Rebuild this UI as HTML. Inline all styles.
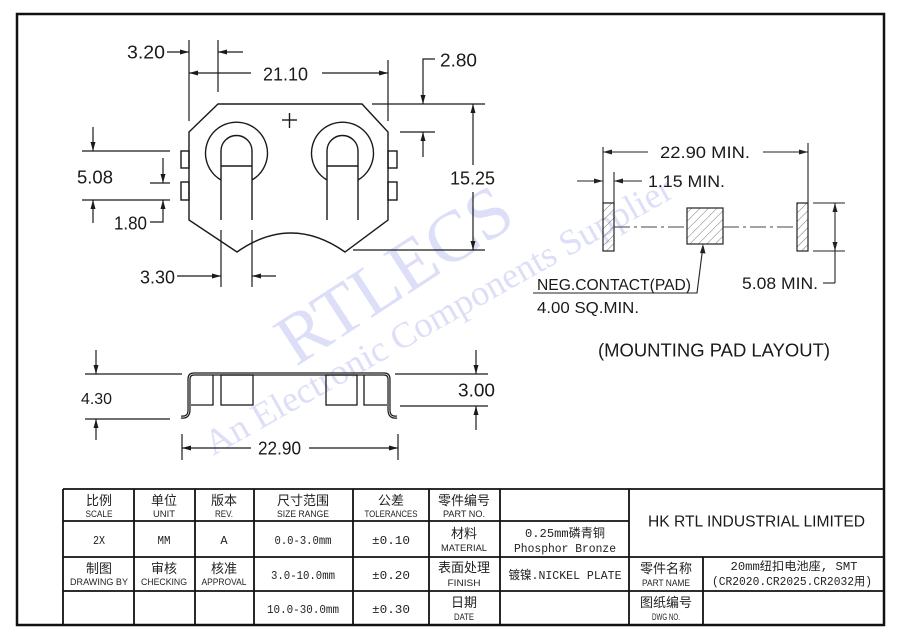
<!DOCTYPE html>
<html><head><meta charset="utf-8"><style>
html,body{margin:0;padding:0;background:#fff;}
svg{display:block;}
.d{font-family:"Liberation Sans",sans-serif;fill:#1a1a1a;}
.c{font-family:"Liberation Sans","Noto Sans CJK SC",sans-serif;fill:#222;}
.m{font-family:"Liberation Mono","Noto Sans CJK SC",monospace;fill:#222;}
</style></head><body>
<svg width="917" height="641" viewBox="0 0 917 641" xmlns="http://www.w3.org/2000/svg">
<defs>
<pattern id="h" patternUnits="userSpaceOnUse" width="6" height="6" patternTransform="rotate(45)">
<line x1="0" y1="0" x2="0" y2="6" stroke="#666" stroke-width="0.9"/></pattern>
</defs>
<rect width="917" height="641" fill="#fff"/>

<!-- watermark -->
<g fill="#dcdff7" font-family="Liberation Serif,serif">
<text transform="translate(296,367) rotate(-33)" font-size="72" textLength="265" lengthAdjust="spacingAndGlyphs">RTLECS</text>
<text transform="translate(213,456) rotate(-29.3)" font-size="36" textLength="530" lengthAdjust="spacingAndGlyphs">An Electronic Components Supplier</text>
</g>

<!-- frame -->
<rect x="17" y="14" width="867" height="611" fill="none" stroke="#111" stroke-width="2.5"/>

<!-- top view body -->
<g fill="none" stroke="#1a1a1a" stroke-width="1.4">
<path d="M218,104 L362,104 L388,132 L388,220 L345,252 Q291,214 237,252 L189,220 L189,132 Z"/>
<rect x="181" y="151" width="8" height="17"/>
<rect x="181" y="182" width="8" height="18"/>
<rect x="388" y="151" width="9" height="17"/>
<rect x="388" y="182" width="9" height="18"/>
<path d="M221,180 A31,31 0 1 1 252,180"/>
<path d="M221,220 L221,151 A15.5,15.5 0 0 1 252,151 L252,220"/>
<line x1="221" y1="166" x2="252" y2="166"/>
<path d="M327,180 A31,31 0 1 1 358,180"/>
<path d="M327,220 L327,151 A15.5,15.5 0 0 1 358,151 L358,220"/>
<line x1="327" y1="166" x2="358" y2="166"/>
<line x1="282" y1="120" x2="297" y2="120"/>
<line x1="289.5" y1="113" x2="289.5" y2="128"/>
</g>

<!-- top view dims -->
<g stroke="#1a1a1a" stroke-width="1.2" fill="none">
<line x1="189" y1="40" x2="189" y2="121"/>
<line x1="218" y1="40" x2="218" y2="92"/>
<line x1="167" y1="52" x2="189" y2="52"/>
<line x1="218" y1="52" x2="243" y2="52"/>
<line x1="189" y1="73" x2="251" y2="73"/>
<line x1="322" y1="73" x2="388" y2="73"/>
<line x1="388" y1="60" x2="388" y2="121"/>
<polyline points="435,59 423,59 423,104"/>
<line x1="423" y1="132" x2="423" y2="157"/>
<line x1="372" y1="104" x2="485" y2="104"/>
<line x1="400" y1="132" x2="435" y2="132"/>
<line x1="473" y1="104" x2="473" y2="165"/>
<line x1="473" y1="192" x2="473" y2="250"/>
<line x1="353" y1="250" x2="485" y2="250"/>
<line x1="82" y1="151" x2="170" y2="151"/>
<line x1="82" y1="200" x2="170" y2="200"/>
<line x1="150" y1="183" x2="170" y2="183"/>
<line x1="93" y1="127" x2="93" y2="151"/>
<line x1="93" y1="200" x2="93" y2="223"/>
<line x1="163" y1="158" x2="163" y2="183"/>
<polyline points="163,200 163,222 150,222"/>
<line x1="221" y1="230" x2="221" y2="287"/>
<line x1="252" y1="230" x2="252" y2="287"/>
<line x1="177" y1="276" x2="221" y2="276"/>
<line x1="252" y1="276" x2="276" y2="276"/>
</g>
<g fill="#1a1a1a">
<polygon points="189,52 180,49.5 180,54.5"/>
<polygon points="218,52 227,49.5 227,54.5"/>
<polygon points="189,73 198,70.5 198,75.5"/>
<polygon points="388,73 379,70.5 379,75.5"/>
<polygon points="423,104 420.5,95 425.5,95"/>
<polygon points="423,132 420.5,141 425.5,141"/>
<polygon points="473,104 470.5,113 475.5,113"/>
<polygon points="473,250 470.5,241 475.5,241"/>
<polygon points="93,151 90.5,142 95.5,142"/>
<polygon points="93,200 90.5,209 95.5,209"/>
<polygon points="163,183 160.5,174 165.5,174"/>
<polygon points="163,200 160.5,209 165.5,209"/>
<polygon points="221,276 212,273.5 212,278.5"/>
<polygon points="252,276 261,273.5 261,278.5"/>
</g>
<g class="d" font-size="18">
<text x="127" y="58.5" textLength="38" lengthAdjust="spacingAndGlyphs">3.20</text>
<text x="263" y="80.5" textLength="45" lengthAdjust="spacingAndGlyphs">21.10</text>
<text x="440" y="66.5" textLength="37" lengthAdjust="spacingAndGlyphs">2.80</text>
<text x="450" y="184.5" textLength="45" lengthAdjust="spacingAndGlyphs">15.25</text>
<text x="77" y="183.5" textLength="36" lengthAdjust="spacingAndGlyphs">5.08</text>
<text x="114" y="229.5" textLength="33" lengthAdjust="spacingAndGlyphs">1.80</text>
<text x="140" y="283.5" textLength="35" lengthAdjust="spacingAndGlyphs">3.30</text>
<text x="458" y="396.5" textLength="37" lengthAdjust="spacingAndGlyphs">3.00</text>
<text x="258" y="454.5" textLength="43" lengthAdjust="spacingAndGlyphs">22.90</text>
</g>
<text class="d" x="81" y="404" font-size="16" textLength="31" lengthAdjust="spacingAndGlyphs">4.30</text>

<!-- side view -->
<g fill="none" stroke="#1a1a1a">
<path d="M181,417 Q189,418 189,410 L189,379 Q189,374 194,374 L384,374 Q389,374 389,379 L389,410 Q389,418 397,417" stroke-width="3.2"/>
<path d="M181,417 Q189,418 189,410 L189,379 Q189,374 194,374 L384,374 Q389,374 389,379 L389,410 Q389,418 397,417" stroke="#fff" stroke-width="0.7"/>
<g stroke-width="1.3">
<polyline points="191,405 213,405 213,375"/>
<rect x="221" y="375" width="32" height="30"/>
<rect x="326" y="375" width="31" height="30"/>
<polyline points="364,375 364,405 387,405"/>
</g>
<g stroke-width="1.2">
<line x1="85" y1="374" x2="182" y2="374"/>
<line x1="85" y1="419" x2="170" y2="419"/>
<line x1="96" y1="350" x2="96" y2="374"/>
<line x1="96" y1="419" x2="96" y2="440"/>
<line x1="395" y1="374" x2="488" y2="374"/>
<line x1="400" y1="406" x2="488" y2="406"/>
<line x1="476" y1="350" x2="476" y2="374"/>
<line x1="476" y1="406" x2="476" y2="430"/>
<line x1="182" y1="434" x2="182" y2="460"/>
<line x1="398" y1="434" x2="398" y2="460"/>
<line x1="182" y1="448" x2="251" y2="448"/>
<line x1="309" y1="448" x2="398" y2="448"/>
</g>
</g>
<g fill="#1a1a1a">
<polygon points="96,374 93.5,365 98.5,365"/>
<polygon points="96,419 93.5,428 98.5,428"/>
<polygon points="476,374 473.5,365 478.5,365"/>
<polygon points="476,406 473.5,415 478.5,415"/>
<polygon points="182,448 191,445.5 191,450.5"/>
<polygon points="398,448 389,445.5 389,450.5"/>
</g>

<!-- mounting pad layout -->
<g stroke="#222" stroke-width="1.2">
<rect x="603" y="203" width="11" height="48" fill="url(#h)"/>
<rect x="687" y="208" width="36" height="36" fill="url(#h)"/>
<rect x="797" y="203" width="11" height="48" fill="url(#h)"/>
</g>
<g stroke="#444" stroke-width="1" fill="none">
<line x1="614" y1="227" x2="687" y2="227" stroke-dasharray="16 4 3 4"/>
<line x1="723" y1="227" x2="797" y2="227" stroke-dasharray="16 4 3 4"/>
</g>
<g stroke="#222" stroke-width="1.1" fill="none">
<line x1="603" y1="147" x2="603" y2="203"/>
<line x1="808" y1="143" x2="808" y2="203"/>
<line x1="614" y1="172" x2="614" y2="203"/>
<line x1="603" y1="152" x2="648" y2="152"/>
<line x1="763" y1="152" x2="808" y2="152"/>
<line x1="577" y1="181" x2="603" y2="181"/>
<line x1="614" y1="181" x2="642" y2="181"/>
<line x1="813" y1="203" x2="845" y2="203"/>
<line x1="813" y1="251" x2="845" y2="251"/>
<line x1="835" y1="203" x2="835" y2="283"/>
<line x1="823" y1="283" x2="835" y2="283"/>
<polyline points="533,293 697,293 703,246"/>
</g>
<g fill="#222">
<polygon points="603,152 612,149.5 612,154.5"/>
<polygon points="808,152 799,149.5 799,154.5"/>
<polygon points="603,181 594,178.5 594,183.5"/>
<polygon points="614,181 623,178.5 623,183.5"/>
<polygon points="835,203 832.5,212 837.5,212"/>
<polygon points="835,251 832.5,242 837.5,242"/>
<polygon points="703,244 700,253 705.5,253.5"/>
</g>
<g class="d">
<text x="660" y="158" font-size="17" textLength="90" lengthAdjust="spacingAndGlyphs">22.90 MIN.</text>
<text x="648" y="187" font-size="17" textLength="77" lengthAdjust="spacingAndGlyphs">1.15 MIN.</text>
<text x="742" y="289" font-size="17" textLength="76" lengthAdjust="spacingAndGlyphs">5.08 MIN.</text>
<text x="537" y="290" font-size="16" textLength="154" lengthAdjust="spacingAndGlyphs">NEG.CONTACT(PAD)</text>
<text x="537" y="313" font-size="16" textLength="102" lengthAdjust="spacingAndGlyphs">4.00 SQ.MIN.</text>
<text x="598" y="356.5" font-size="18" textLength="232" lengthAdjust="spacingAndGlyphs">(MOUNTING PAD LAYOUT)</text>
</g>

<!-- title block -->
<g stroke="#111" stroke-width="1.8" fill="none">
<line x1="63" y1="489" x2="884" y2="489"/>
<line x1="63" y1="489" x2="63" y2="625"/>
<line x1="63" y1="521" x2="629" y2="521"/>
<line x1="63" y1="557" x2="884" y2="557"/>
<line x1="63" y1="591" x2="884" y2="591"/>
<line x1="134" y1="489" x2="134" y2="625"/>
<line x1="195" y1="489" x2="195" y2="625"/>
<line x1="254" y1="489" x2="254" y2="625"/>
<line x1="353" y1="489" x2="353" y2="625"/>
<line x1="429" y1="489" x2="429" y2="625"/>
<line x1="500" y1="489" x2="500" y2="625"/>
<line x1="629" y1="489" x2="629" y2="625"/>
<line x1="703" y1="557" x2="703" y2="625"/>
</g>
<g class="c" text-anchor="middle" font-size="13">
<text x="99" y="505">比例</text>
<text x="164" y="505">单位</text>
<text x="224" y="505">版本</text>
<text x="303" y="505">尺寸范围</text>
<text x="391" y="505">公差</text>
<text x="464" y="505">零件编号</text>
<text x="464" y="538">材料</text>
<text x="464" y="572">表面处理</text>
<text x="464" y="607">日期</text>
<text x="99" y="573">制图</text>
<text x="164" y="573">审核</text>
<text x="224" y="573">核准</text>
<text x="666" y="573">零件名称</text>
<text x="666" y="607">图纸编号</text>
</g>
<g class="c" font-size="9" text-anchor="middle">
<text x="99" y="517" textLength="27" lengthAdjust="spacingAndGlyphs">SCALE</text>
<text x="164" y="517" textLength="22" lengthAdjust="spacingAndGlyphs">UNIT</text>
<text x="224" y="517" textLength="18" lengthAdjust="spacingAndGlyphs">REV.</text>
<text x="303" y="517" textLength="52" lengthAdjust="spacingAndGlyphs">SIZE RANGE</text>
<text x="391" y="517" textLength="53" lengthAdjust="spacingAndGlyphs">TOLERANCES</text>
<text x="464" y="517" textLength="42" lengthAdjust="spacingAndGlyphs">PART NO.</text>
<text x="464" y="551" textLength="46" lengthAdjust="spacingAndGlyphs">MATERIAL</text>
<text x="464" y="586" textLength="33" lengthAdjust="spacingAndGlyphs">FINISH</text>
<text x="464" y="620" textLength="20" lengthAdjust="spacingAndGlyphs">DATE</text>
<text x="99" y="585" textLength="58" lengthAdjust="spacingAndGlyphs">DRAWING BY</text>
<text x="164" y="585" textLength="46" lengthAdjust="spacingAndGlyphs">CHECKING</text>
<text x="224" y="585" textLength="45" lengthAdjust="spacingAndGlyphs">APPROVAL</text>
<text x="666" y="586" textLength="48" lengthAdjust="spacingAndGlyphs">PART NAME</text>
<text x="666" y="620" textLength="28" lengthAdjust="spacingAndGlyphs">DWG NO.</text>
</g>
<g class="m" font-size="12" text-anchor="middle">
<text x="99" y="544" textLength="12" lengthAdjust="spacingAndGlyphs">2X</text>
<text x="164" y="544" textLength="13" lengthAdjust="spacingAndGlyphs">MM</text>
<text x="224" y="544">A</text>
<text x="303" y="544" textLength="57" lengthAdjust="spacingAndGlyphs">0.0-3.0mm</text>
<text x="303" y="579" textLength="64" lengthAdjust="spacingAndGlyphs">3.0-10.0mm</text>
<text x="303" y="613" textLength="72" lengthAdjust="spacingAndGlyphs">10.0-30.0mm</text>
<text x="391" y="544" textLength="38" lengthAdjust="spacingAndGlyphs">±0.10</text>
<text x="391" y="579" textLength="38" lengthAdjust="spacingAndGlyphs">±0.20</text>
<text x="391" y="613" textLength="38" lengthAdjust="spacingAndGlyphs">±0.30</text>
<text x="565" y="537" font-size="12" textLength="80" lengthAdjust="spacingAndGlyphs">0.25mm磷青铜</text>
<text x="565" y="552" font-size="12" textLength="102" lengthAdjust="spacingAndGlyphs">Phosphor Bronze</text>
<text x="565" y="579" font-size="12" textLength="113" lengthAdjust="spacingAndGlyphs">镀镍.NICKEL PLATE</text>
<text x="794" y="570" font-size="11.5" textLength="127" lengthAdjust="spacingAndGlyphs">20mm纽扣电池座, SMT</text>
<text x="792" y="585" font-size="11.5" textLength="160" lengthAdjust="spacingAndGlyphs">(CR2020.CR2025.CR2032用)</text>
</g>
<text class="d" x="756.5" y="526.5" font-size="15.5" text-anchor="middle" textLength="217" lengthAdjust="spacingAndGlyphs" fill="#222">HK RTL INDUSTRIAL LIMITED</text>
</svg>
</body></html>
